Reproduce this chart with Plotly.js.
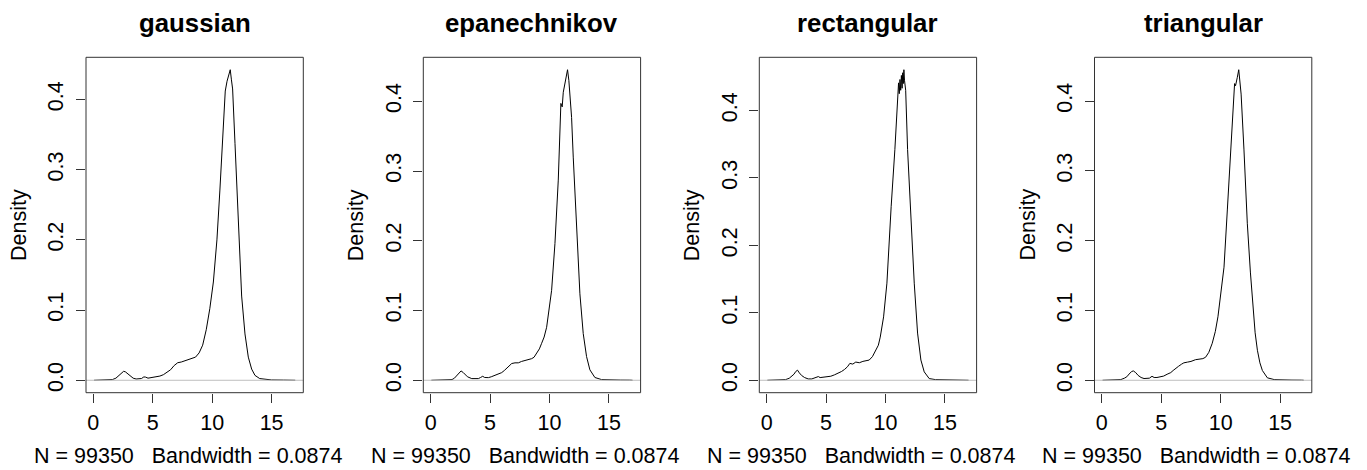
<!DOCTYPE html>
<html>
<head>
<meta charset="utf-8">
<script src="https://cdn.plot.ly/plotly-3.0.1.min.js"></script>
<style>html,body{margin:0;padding:0;background:#fff;}#chart{width:1367px;height:470px;}</style>
</head>
<body>
<div id="chart"></div>
<script>
// ---- data ----
const kernels = ["gaussian", "epanechnikov", "rectangular", "triangular"];
const subText = "N = 99350   Bandwidth = 0.0874";
const xTickVals = [0, 5, 10, 15];
const yTickVals = [0, 0.1, 0.2, 0.3, 0.4];
const yTickText = ["0.0", "0.1", "0.2", "0.3", "0.4"];

const gaussX = [0.06, 0.7, 1.3, 1.6, 1.9, 2.2, 2.4, 2.55, 2.7, 2.9, 3.1, 3.35, 3.6, 3.85, 4.05, 4.25, 4.4, 4.6, 4.8, 5.0, 5.3, 5.6, 5.9, 6.2, 6.5, 6.8, 7.1, 7.4, 7.7, 8.0, 8.3, 8.6, 8.9, 9.2, 9.5, 9.8, 10.1, 10.4, 10.65, 10.95, 11.1, 11.25, 11.38, 11.52, 11.62, 11.72, 11.92, 12.2, 12.48, 12.76, 13.04, 13.32, 13.6, 14.0, 14.5, 15.0, 16.0, 16.8, 16.99];
const gaussY = [0, 0, 0.0002, 0.001, 0.003, 0.007, 0.011, 0.0128, 0.012, 0.009, 0.006, 0.003, 0.0018, 0.0018, 0.0025, 0.0048, 0.0045, 0.003, 0.0035, 0.004, 0.0045, 0.006, 0.008, 0.011, 0.015, 0.021, 0.025, 0.026, 0.028, 0.030, 0.031, 0.033, 0.039, 0.050, 0.072, 0.102, 0.140, 0.200, 0.271, 0.378, 0.412, 0.426, 0.433, 0.4424, 0.428, 0.415, 0.337, 0.223, 0.120, 0.066, 0.033, 0.016, 0.007, 0.0024, 0.001, 0.0005, 0.0003, 0.0002, 0];

const epanX = [0.06, 0.7, 1.3, 1.6, 1.8, 2.0, 2.2, 2.4, 2.56, 2.75, 2.9, 3.1, 3.46, 3.8, 4.02, 4.2, 4.38, 4.55, 4.86, 5.1, 5.42, 5.7, 5.98, 6.2, 6.4, 6.6, 6.82, 7.1, 7.38, 7.65, 7.94, 8.2, 8.5, 8.7, 8.92, 9.15, 9.34, 9.55, 9.76, 9.95, 10.18, 10.46, 10.74, 10.96, 11.07, 11.16, 11.3, 11.38, 11.45, 11.52, 11.63, 11.86, 12.0, 12.28, 12.56, 12.84, 13.12, 13.4, 13.82, 14.38, 15.0, 16.0, 16.76, 16.99];
const epanY = [0, 0, 0.0002, 0.0008, 0.001, 0.003, 0.007, 0.011, 0.0134, 0.011, 0.008, 0.005, 0.0024, 0.0022, 0.0024, 0.004, 0.0057, 0.004, 0.0038, 0.005, 0.007, 0.009, 0.011, 0.014, 0.017, 0.020, 0.024, 0.025, 0.025, 0.027, 0.028, 0.029, 0.031, 0.033, 0.038, 0.045, 0.053, 0.062, 0.076, 0.098, 0.129, 0.196, 0.287, 0.397, 0.392, 0.413, 0.427, 0.43, 0.438, 0.4453, 0.43, 0.377, 0.32, 0.215, 0.124, 0.067, 0.034, 0.015, 0.004, 0.001, 0.0005, 0.0003, 0.0002, 0];

const rectX = [0.06, 0.7, 1.3, 1.6, 1.9, 2.1, 2.3, 2.45, 2.6, 2.75, 2.95, 3.2, 3.5, 3.8, 4.0, 4.2, 4.35, 4.5, 4.7, 4.9, 5.1, 5.4, 5.7, 6.0, 6.3, 6.55, 6.8, 7.0, 7.25, 7.5, 7.8, 8.1, 8.4, 8.63, 8.9, 9.19, 9.4, 9.56, 9.84, 10.12, 10.26, 10.48, 10.79, 10.96, 11.05, 11.1, 11.16, 11.22, 11.28, 11.34, 11.4, 11.45, 11.5, 11.55, 11.6, 11.7, 11.86, 12.14, 12.42, 12.7, 12.98, 13.26, 13.68, 14.2, 15.0, 16.0, 16.8, 16.99];
const rectY = [0, 0, 0.0002, 0.001, 0.003, 0.006, 0.009, 0.013, 0.015, 0.011, 0.007, 0.004, 0.002, 0.002, 0.003, 0.0045, 0.0055, 0.004, 0.0045, 0.004, 0.005, 0.006, 0.008, 0.010, 0.013, 0.016, 0.020, 0.025, 0.024, 0.027, 0.026, 0.028, 0.029, 0.030, 0.035, 0.045, 0.052, 0.064, 0.094, 0.144, 0.193, 0.258, 0.342, 0.392, 0.42, 0.441, 0.425, 0.446, 0.43, 0.452, 0.433, 0.456, 0.44, 0.4605, 0.445, 0.43, 0.342, 0.243, 0.144, 0.07, 0.03, 0.0125, 0.0025, 0.001, 0.0005, 0.0003, 0.0002, 0];

const triX = [0.06, 0.7, 1.3, 1.6, 1.9, 2.1, 2.3, 2.5, 2.65, 2.85, 3.05, 3.3, 3.55, 3.8, 4.0, 4.22, 4.4, 4.64, 4.9, 5.2, 5.49, 5.8, 6.0, 6.19, 6.45, 6.7, 6.9, 7.2, 7.5, 7.88, 8.2, 8.5, 8.73, 9.0, 9.29, 9.55, 9.77, 10.0, 10.28, 10.56, 10.84, 11.0, 11.1, 11.17, 11.25, 11.32, 11.4, 11.52, 11.62, 11.72, 11.96, 12.24, 12.5, 12.67, 12.9, 13.09, 13.3, 13.51, 13.93, 14.5, 15.0, 16.0, 16.8, 16.99];
const triY = [0, 0, 0.0002, 0.001, 0.003, 0.005, 0.009, 0.0125, 0.0134, 0.011, 0.007, 0.004, 0.0025, 0.0024, 0.003, 0.0057, 0.004, 0.004, 0.0045, 0.006, 0.0086, 0.011, 0.014, 0.017, 0.020, 0.023, 0.025, 0.026, 0.027, 0.0295, 0.030, 0.031, 0.033, 0.040, 0.053, 0.07, 0.091, 0.12, 0.162, 0.244, 0.33, 0.385, 0.412, 0.425, 0.422, 0.43, 0.434, 0.4449, 0.43, 0.41, 0.33, 0.225, 0.155, 0.113, 0.068, 0.043, 0.025, 0.014, 0.0035, 0.001, 0.0005, 0.0003, 0.0002, 0];

const seriesX = [gaussX, epanX, rectX, triX];
const seriesY = [gaussY, epanY, rectY, triY];

// ---- layout geometry (pixels) ----
const W = 1367, H = 470;
const panelLeft = [86, 423.3, 759.3, 1094.5];
const panelWidth = 217.3;
const plotTop = 57.3, plotBottom = 392.7;
const FONT = "Liberation Sans, Arial, Helvetica, sans-serif";
const baseSize = 21.5;

const traces = [];
const layout = {
  width: W, height: H,
  margin: {l: 0, r: 0, t: 0, b: 0},
  paper_bgcolor: "#fff", plot_bgcolor: "#fff",
  showlegend: false,
  font: {family: FONT, size: baseSize, color: "#000"},
  shapes: [], annotations: []
};

kernels.forEach((k, i) => {
  const n = i === 0 ? "" : String(i + 1);
  const xs = seriesX[i], ys = seriesY[i];
  const xmin = Math.min(...xs), xmax = Math.max(...xs);
  const ymin = Math.min(...ys), ymax = Math.max(...ys);
  const dx = xmax - xmin, dy = ymax - ymin;
  traces.push({
    x: xs, y: ys, type: "scatter", mode: "lines",
    xaxis: "x" + n, yaxis: "y" + n,
    line: {color: "#000", width: 1}, hoverinfo: "skip"
  });
  layout["xaxis" + n] = {
    domain: [panelLeft[i] / W, (panelLeft[i] + panelWidth) / W],
    range: [xmin - 0.04 * dx, xmax + 0.04 * dx],
    anchor: "y" + n,
    tickvals: xTickVals, ticktext: xTickVals.map(String),
    ticks: "outside", ticklen: 9, tickwidth: 1, tickcolor: "#333",
    ticklabelstandoff: 1,
    tickfont: {family: FONT, size: baseSize, color: "#000"},
    showgrid: false, zeroline: false, showline: false, fixedrange: true
  };
  layout["yaxis" + n] = {
    domain: [(H - plotBottom) / H, (H - plotTop) / H],
    range: [ymin - 0.04 * dy, ymax + 0.04 * dy],
    anchor: "x" + n,
    tickvals: yTickVals, ticktext: yTickText, tickangle: -90,
    ticks: "outside", ticklen: 9, tickwidth: 1, tickcolor: "#333",
    ticklabelstandoff: 4,
    tickfont: {family: FONT, size: baseSize, color: "#000"},
    showgrid: false, zeroline: false, showline: false, fixedrange: true
  };
  // zero line (abline h=0, gray)
  layout.shapes.push({
    type: "line", xref: "x" + n + " domain", yref: "y" + n,
    x0: 0, x1: 1, y0: 0, y1: 0,
    line: {color: "#BEBEBE", width: 1}, layer: "above"
  });
  // box
  layout.shapes.push({
    type: "rect", xref: "x" + n + " domain", yref: "y" + n + " domain",
    x0: 0, x1: 1, y0: 0, y1: 1,
    line: {color: "#333", width: 1}, layer: "above"
  });
  // title
  layout.annotations.push({
    text: "<b>" + k + "</b>", showarrow: false,
    xref: "x" + n + " domain", yref: "y" + n + " domain",
    x: 0.5, y: 1, xanchor: "center", yanchor: "bottom", yshift: 18,
    font: {family: FONT, size: 25.8, color: "#000"}
  });
  // y label
  layout.annotations.push({
    text: "Density", showarrow: false, textangle: -90,
    xref: "x" + n + " domain", yref: "y" + n + " domain",
    x: 0, y: 0.5, xanchor: "center", yanchor: "middle", xshift: -67,
    font: {family: FONT, size: baseSize, color: "#000"}
  });
  // sub / xlab
  layout.annotations.push({
    text: subText, showarrow: false, borderpad: 0,
    xref: "x" + n + " domain", yref: "y" + n + " domain",
    x: 0.5, y: 0, xanchor: "center", yanchor: "top", xshift: -7, yshift: -50,
    font: {family: FONT, size: baseSize, color: "#000"}
  });
});

Plotly.newPlot("chart", traces, layout, {displayModeBar: false, staticPlot: true});
</script>
</body>
</html>
